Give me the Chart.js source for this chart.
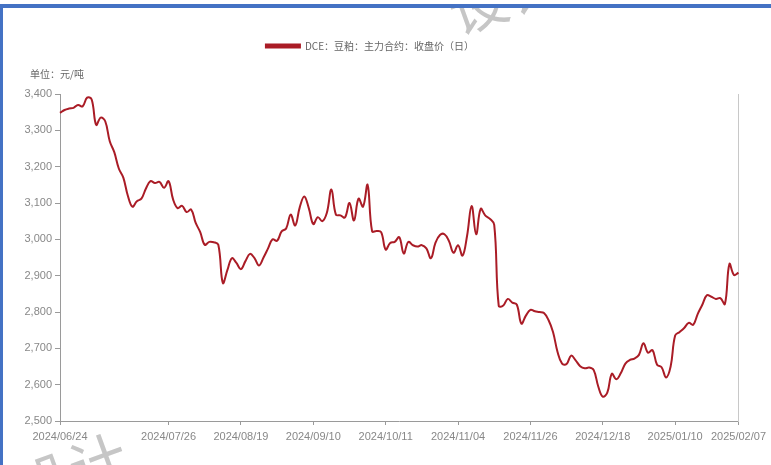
<!DOCTYPE html>
<html>
<head>
<meta charset="utf-8">
<script src="https://cdn.jsdelivr.net/npm/chart.js@4.4.1/dist/chart.umd.min.js"></script>
<style>
html, body { margin: 0; padding: 0; background: #fff; }
#wrap { position: relative; width: 771px; height: 465px; overflow: hidden; background: #fff; }
#frame { position: absolute; left: 0; top: 4px; right: 0; bottom: 0; border-top: 4px solid #4472C4; border-left: 3px solid #4472C4; pointer-events: none; }
#cap { position: absolute; left: 0; top: 0; width: 771px; height: 4px; background: #fff; }
.wm { position: absolute; color: #c6c6c6; font: 58px "Noto Sans CJK SC"; white-space: nowrap; }
canvas { position: absolute; left: 0; top: 0; }
</style>
</head>
<body>
<div id="wrap">
  <div class="wm" style="left:446px; top:-50px; transform:rotate(-20deg)">设计</div>
  <div class="wm" style="left:12px; top:428px; transform:rotate(-20deg)">设计</div>
  <canvas id="chart" width="771" height="465"></canvas>
  <div id="cap"></div>
  <div id="frame"></div>
</div>
<script>
/* 豆粕主力合约收盘价，元/吨 */
const seriesName = 'DCE：豆粕：主力合约：收盘价（日）';
const unitText = '单位：元/吨';

// labels shown on the x axis
const xTickLabels = ['2024/06/24', '2024/07/26', '2024/08/19', '2024/09/10', '2024/10/11',
  '2024/11/04', '2024/11/26', '2024/12/18', '2025/01/10', '2025/02/07'];

const yMin = 2500, yMax = 3400, yStep = 100;

// exchange closed (besides weekends)
const holidays = ['2024-09-16', '2024-09-17',
  '2024-10-01', '2024-10-02', '2024-10-03', '2024-10-04', '2024-10-07',
  '2025-01-01', '2025-01-28', '2025-01-29', '2025-01-30', '2025-01-31', '2025-02-03', '2025-02-04'];

const closePrice = [
  3348, 3356, 3360, 3362, 3370, 3366, 3390, 3385, 3315, 3335,
  3325, 3270, 3240, 3195, 3170, 3120, 3090, 3105, 3112, 3140,
  3160, 3155, 3158, 3142, 3160, 3110, 3086, 3092, 3075, 3082,
  3045, 3020, 2985, 2993, 2992, 2985, 2880, 2915, 2948, 2935,
  2918, 2940, 2960, 2948, 2928, 2950, 2975, 3000, 2996, 3022,
  3030, 3068, 3038, 3088, 3118, 3086, 3042, 3061, 3050, 3073,
  3137, 3068, 3066, 3060, 3100, 3052, 3112, 3090, 3150, 3022,
  3023, 3020, 2972, 2990, 2993, 3006, 2961, 2993, 2984, 2980,
  2984, 2975, 2948, 2990, 3012, 3014, 2995, 2963, 2984, 2955,
  3010, 3092, 3014, 3084, 3066, 3057, 3040, 2817, 2818, 2836,
  2826, 2820, 2768, 2790, 2806, 2802, 2800, 2797, 2778, 2745,
  2690, 2658, 2657, 2680, 2667, 2651, 2645, 2647, 2640, 2595,
  2567, 2578, 2630, 2615, 2632, 2658, 2668, 2672, 2682, 2714,
  2688, 2695, 2655, 2648, 2620, 2650, 2735, 2745, 2756, 2770,
  2765, 2795, 2820, 2846, 2842, 2836, 2838, 2822, 2932, 2902,
  2908
];

/* trading days from first to last tick label */
function tradingDays(from, to){
  const out = [];
  const d = new Date(from.replace(/\//g, '-') + 'T00:00:00Z');
  const end = new Date(to.replace(/\//g, '-') + 'T00:00:00Z');
  while (d <= end){
    const iso = d.toISOString().slice(0, 10);
    const wd = d.getUTCDay();
    if (wd !== 0 && wd !== 6 && !holidays.includes(iso)) out.push(iso.replace(/-/g, '/'));
    d.setUTCDate(d.getUTCDate() + 1);
  }
  return out;
}
const dates = tradingDays(xTickLabels[0], xTickLabels[xTickLabels.length - 1]);

const axisColor = '#9a9a9a';
const tickFont = { family: '"Liberation Sans Narrow", "Liberation Sans", sans-serif', size: 11 };

/* unit text above the value axis */
const unitLabel = {
  id: 'unitLabel',
  afterDraw(chart){
    const { ctx, chartArea } = chart;
    ctx.save();
    ctx.font = '10px "Noto Sans CJK SC"';
    ctx.fillStyle = '#666';
    ctx.textBaseline = 'middle';
    ctx.fillText(unitText, 30, chartArea.top - 20);
    ctx.restore();
  }
};

/* push the plot down below the legend */
const legendGap = {
  id: 'legendGap',
  beforeInit(chart){
    const fit = chart.legend.fit;
    chart.legend.fit = function(){
      fit.bind(chart.legend)();
      this.height += 33;
    };
  }
};

new Chart(document.getElementById('chart'), {
  type: 'line',
  data: {
    labels: dates,
    datasets: [{
      label: seriesName,
      data: closePrice,
      borderColor: '#AA1C26',
      backgroundColor: '#AA1C26',
      borderWidth: 2,
      pointRadius: 0,
      tension: 0.4,
      fill: false
    }]
  },
  options: {
    responsive: false,
    animation: false,
    devicePixelRatio: 1,
    layout: { padding: { top: 31, right: 31, left: 0, bottom: 0 } },
    plugins: {
      legend: {
        position: 'top',
        labels: {
          boxWidth: 34, boxHeight: 3, padding: 10,
          color: '#666',
          font: { family: '"Noto Sans CJK SC"', size: 10 }
        }
      },
      tooltip: { enabled: false }
    },
    scales: {
      x: {
        type: 'category',
        offset: false,
        grid: { display: true, drawOnChartArea: false, drawTicks: true, tickLength: 4, color: axisColor },
        border: { display: true, color: axisColor, width: 1 },
        ticks: {
          autoSkip: false, maxRotation: 0, minRotation: 0, padding: 5,
          color: '#888', font: tickFont,
          callback(v, i){ return xTickLabels.includes(dates[i]) ? dates[i] : null; }
        },
        afterFit(s){ s.height = 44; }
      },
      y: {
        min: yMin, max: yMax,
        grid: { display: true, drawOnChartArea: false, drawTicks: true, tickLength: 5, color: axisColor },
        border: { display: true, color: axisColor, width: 1 },
        ticks: {
          stepSize: yStep, padding: 3, color: '#888', font: tickFont,
          callback: v => v.toLocaleString('en-US')
        },
        afterFit(s){ s.width = 60; }
      },
      yRight: {
        position: 'right',
        min: yMin, max: yMax,
        grid: { display: false },
        border: { display: true, color: '#c8c8c8', width: 1 },
        ticks: { display: false },
        afterFit(s){ s.width = 0; }
      }
    }
  },
  plugins: [unitLabel, legendGap]
});
</script>
</body>
</html>
